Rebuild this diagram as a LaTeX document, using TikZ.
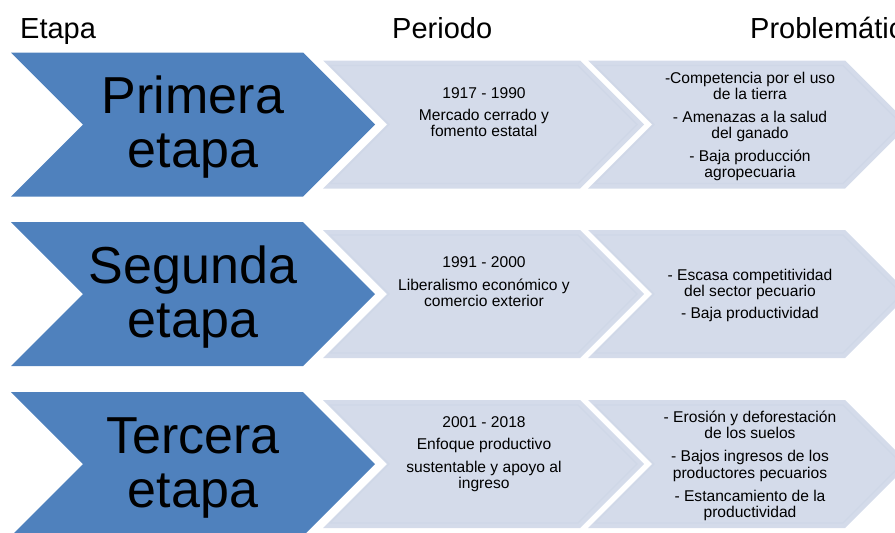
\documentclass[tikz,border=0pt]{standalone}
\usepackage{fontspec}
\setmainfont{Liberation Sans}
\definecolor{stageblue}{HTML}{4F81BD}
\definecolor{paleblue}{HTML}{D4DBEA}
\definecolor{paleline}{HTML}{CFD7E7}
\begin{document}
\begin{tikzpicture}[x=1pt,y=-1pt,
  bigchev/.style={fill=stageblue,draw=none},
  palechev/.style={fill=paleblue,draw=none},
  paleedge/.style={draw=paleline,line width=1.2pt},
  headtxt/.style={anchor=base west,inner sep=0pt,font=\fontsize{29}{32}\selectfont},
  stagetxt/.style={anchor=base,inner sep=0pt,font=\fontsize{52}{54}\selectfont},
  smalltxt/.style={anchor=base,inner sep=0pt,font=\fontsize{15.6}{16}\selectfont}]
\useasboundingbox (0,0) rectangle (895,533);
\begin{scope}
\clip (0,0) rectangle (895,533);
% headers
\node[headtxt] (hEtapa) at (20,38.5) {Etapa};
\node[headtxt] (hPeriodo) at (392,38.5) {Periodo};
\node[headtxt] (hProb) at (750,38.5) {Problemática};
% chevrons, rows at cy = 124.5, 294, 464
\foreach \cy in {124.5,294,464}{
  \fill[stageblue] (11,\cy-72) -- (303,\cy-72) -- (375,\cy) -- (303,\cy+72) -- (11,\cy+72) -- (83,\cy) -- cycle;
  \fill[paleblue] (323,\cy-64) -- (580,\cy-64) -- (644,\cy) -- (580,\cy+64) -- (323,\cy+64) -- (387,\cy) -- cycle;
  \draw[paleedge] (330,\cy-59) -- (578,\cy-59) -- (637,\cy) -- (578,\cy+59) -- (330,\cy+59) -- (389,\cy) -- cycle;
  \fill[paleblue] (588,\cy-64) -- (845,\cy-64) -- (909,\cy) -- (845,\cy+64) -- (588,\cy+64) -- (652,\cy) -- cycle;
  \draw[paleedge] (595,\cy-59) -- (843,\cy-59) -- (902,\cy) -- (843,\cy+59) -- (595,\cy+59) -- (654,\cy) -- cycle;
}
% stage names
\node[stagetxt] (s1a) at (193,113.5) {Primera};
\node[stagetxt] (s1b) at (193,167.5) {etapa};
\node[stagetxt] (s2a) at (193,283) {Segunda};
\node[stagetxt] (s2b) at (193,337.5) {etapa};
\node[stagetxt] (s3a) at (193,453) {Tercera};
\node[stagetxt] (s3b) at (193,507.5) {etapa};
% periods
\node[smalltxt] (p1a) at (484,98.5) {1917 - 1990};
\node[smalltxt] (p1b) at (484,120.5) {Mercado cerrado y};
\node[smalltxt] (p1c) at (484,136.5) {fomento estatal};
\node[smalltxt] (p2a) at (484,267.5) {1991 - 2000};
\node[smalltxt] (p2b) at (484,290.5) {Liberalismo económico y};
\node[smalltxt] (p2c) at (484,306.5) {comercio exterior};
\node[smalltxt] (p3a) at (484,427.5) {2001 - 2018};
\node[smalltxt] (p3b) at (484,449.5) {Enfoque productivo};
\node[smalltxt] (p3c) at (484,472.5) {sustentable y apoyo al};
\node[smalltxt] (p3d) at (484,488.5) {ingreso};
% problems
\node[smalltxt] (q1a) at (750,83.5) {-Competencia por el uso};
\node[smalltxt] (q1b) at (750,99.5) {de la tierra};
\node[smalltxt] (q1c) at (750,122.5) {- Amenazas a la salud};
\node[smalltxt] (q1d) at (750,138.5) {del ganado};
\node[smalltxt] (q1e) at (750,161.5) {- Baja producción};
\node[smalltxt] (q1f) at (750,177.5) {agropecuaria};
\node[smalltxt] (q2a) at (750,280.5) {- Escasa competitividad};
\node[smalltxt] (q2b) at (750,296.5) {del sector pecuario};
\node[smalltxt] (q2c) at (750,318.5) {- Baja productividad};
\node[smalltxt] (q3a) at (750,422.5) {- Erosión y deforestación};
\node[smalltxt] (q3b) at (750,438.5) {de los suelos};
\node[smalltxt] (q3c) at (750,461.5) {- Bajos ingresos de los};
\node[smalltxt] (q3d) at (750,478.5) {productores pecuarios};
\node[smalltxt] (q3e) at (750,501.5) {- Estancamiento de la};
\node[smalltxt] (q3f) at (750,517.5) {productividad};
\end{scope}
\end{tikzpicture}
\end{document}
